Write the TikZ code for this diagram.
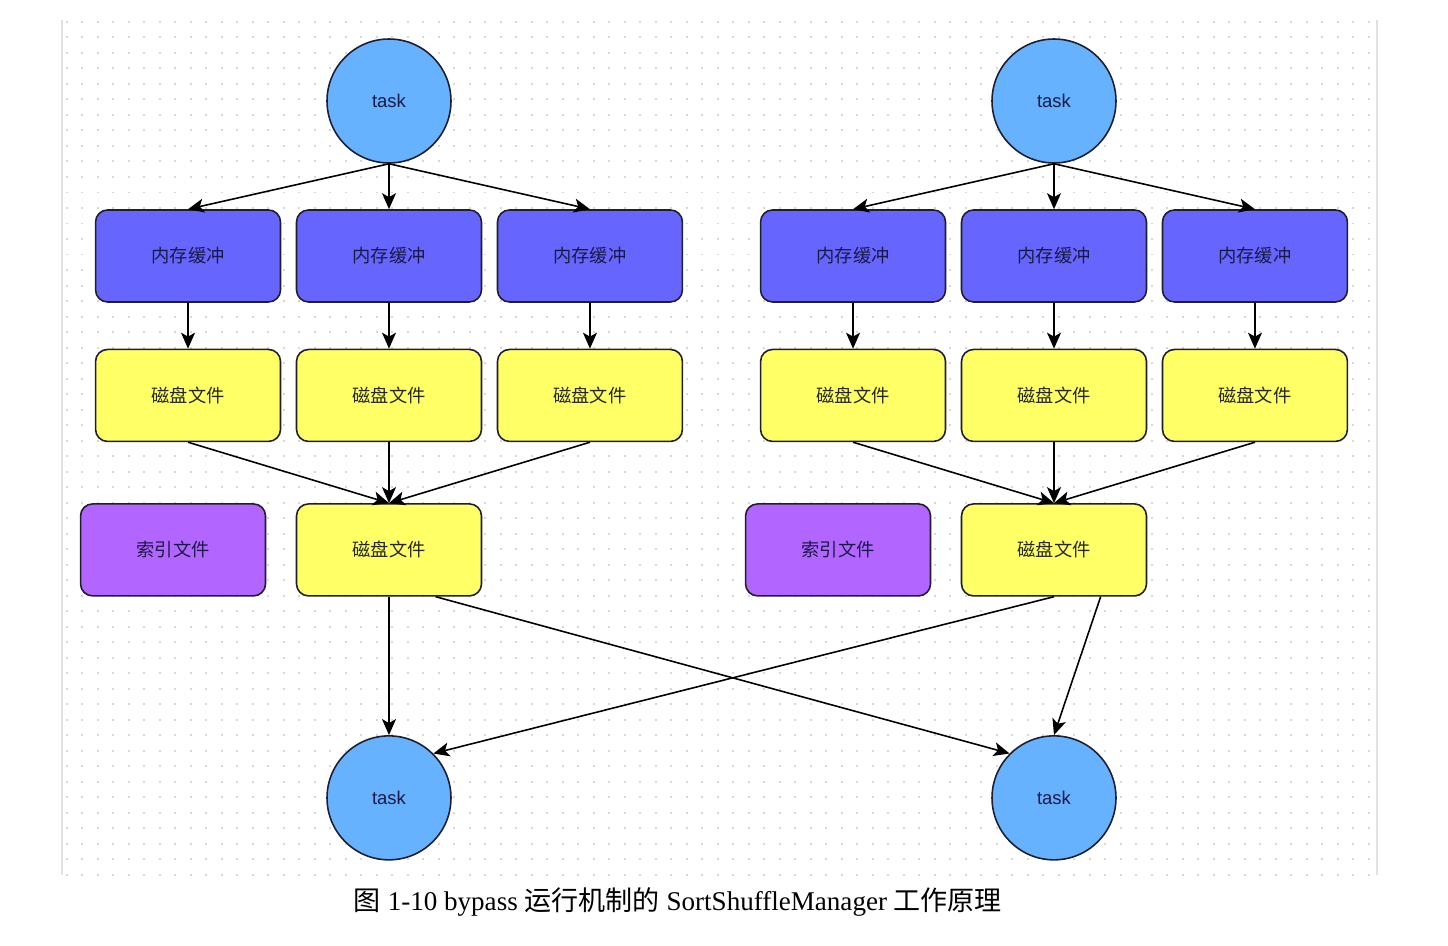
\documentclass[tikz,border=0pt]{standalone}
\usepackage{fontspec}
\setmainfont{Liberation Serif}
\newfontfamily\cjk{Noto Sans CJK SC}
\newfontfamily\labelfont{Liberation Sans}
\usepackage{xcolor}
\usepackage{tikz}
\usetikzlibrary{positioning,arrows.meta,calc}

\definecolor{taskblue}{RGB}{102,178,255}
\definecolor{bufblue}{RGB}{102,102,255}
\definecolor{diskyellow}{RGB}{255,255,102}
\definecolor{indexpurple}{RGB}{178,102,255}
\definecolor{edgedark}{RGB}{30,30,45}
\definecolor{inkdark}{RGB}{25,25,70}
\definecolor{dotgray}{RGB}{215,215,215}
\definecolor{framegray}{RGB}{225,225,225}

\tikzset{
  taskcircle/.style={circle,draw=edgedark,fill=taskblue,line width=0.9pt,
    minimum size=2.48cm,inner sep=0pt,text=inkdark,
    font=\labelfont\fontsize{10.5}{12}\selectfont},
  boxbase/.style={rectangle,rounded corners=0.24cm,draw=edgedark,line width=0.9pt,
    minimum width=3.7cm,minimum height=1.84cm,inner sep=0pt,text=inkdark,
    font=\cjk\fontsize{10.4}{12}\selectfont},
  bufferbox/.style={boxbase,fill=bufblue},
  diskbox/.style={boxbase,fill=diskyellow,text=black!85},
  indexbox/.style={boxbase,fill=indexpurple},
  flow/.style={draw=black,line width=0.9pt,-{Stealth[length=0.32cm,width=0.28cm,inset=0.08cm]}},
}

\begin{document}
\begin{tikzpicture}[x=0.02cm,y=-0.02cm,on grid]
  \useasboundingbox (0,0) rectangle (1448,946);
  % dotted canvas
  \foreach \gy in {22,37.5,...,875}
    \draw[dotgray,line width=0.04cm,dash pattern=on 0.04cm off 0.27cm] (66,\gy) -- (1372,\gy);
  \draw[framegray,line width=0.03cm] (62,20) -- (62,875);
  \draw[framegray,line width=0.03cm] (1377,20) -- (1377,875);

  % left shuffle writer
  \node[taskcircle] (taskA) at (389,101) {task};
  \node[bufferbox,below=3.1cm of taskA] (bufA2) {内存缓冲};
  \node[bufferbox,left=4.02cm of bufA2] (bufA1) {内存缓冲};
  \node[bufferbox,right=4.02cm of bufA2] (bufA3) {内存缓冲};
  \node[diskbox,below=2.79cm of bufA1] (diskA1) {磁盘文件};
  \node[diskbox,below=2.79cm of bufA2] (diskA2) {磁盘文件};
  \node[diskbox,below=2.79cm of bufA3] (diskA3) {磁盘文件};
  \node[diskbox,below=3.09cm of diskA2] (mergeA) {磁盘文件};
  \node[indexbox,left=4.32cm of mergeA] (indexA) {索引文件};

  % right shuffle writer
  \node[taskcircle] (taskB) at (1054,101) {task};
  \node[bufferbox,below=3.1cm of taskB] (bufB2) {内存缓冲};
  \node[bufferbox,left=4.02cm of bufB2] (bufB1) {内存缓冲};
  \node[bufferbox,right=4.02cm of bufB2] (bufB3) {内存缓冲};
  \node[diskbox,below=2.79cm of bufB1] (diskB1) {磁盘文件};
  \node[diskbox,below=2.79cm of bufB2] (diskB2) {磁盘文件};
  \node[diskbox,below=2.79cm of bufB3] (diskB3) {磁盘文件};
  \node[diskbox,below=3.09cm of diskB2] (mergeB) {磁盘文件};
  \node[indexbox,left=4.32cm of mergeB] (indexB) {索引文件};

  % reading tasks
  \node[taskcircle,below=4.96cm of mergeA] (taskC) {task};
  \node[taskcircle,below=4.96cm of mergeB] (taskD) {task};

  \draw[flow] (taskA.south) -- (bufA1.north);
  \draw[flow] (taskA.south) -- (bufA2.north);
  \draw[flow] (taskA.south) -- (bufA3.north);
  \draw[flow] (bufA1) -- (diskA1);
  \draw[flow] (bufA2) -- (diskA2);
  \draw[flow] (bufA3) -- (diskA3);
  \draw[flow] (diskA1.south) -- (mergeA.north);
  \draw[flow] (diskA2.south) -- (mergeA.north);
  \draw[flow] (diskA3.south) -- (mergeA.north);

  \draw[flow] (taskB.south) -- (bufB1.north);
  \draw[flow] (taskB.south) -- (bufB2.north);
  \draw[flow] (taskB.south) -- (bufB3.north);
  \draw[flow] (bufB1) -- (diskB1);
  \draw[flow] (bufB2) -- (diskB2);
  \draw[flow] (bufB3) -- (diskB3);
  \draw[flow] (diskB1.south) -- (mergeB.north);
  \draw[flow] (diskB2.south) -- (mergeB.north);
  \draw[flow] (diskB3.south) -- (mergeB.north);

  \draw[flow] (mergeA.south) -- (taskC.north);
  \draw[flow] ($(mergeA.south)!0.5!(mergeA.south east)$) -- (taskD.north west);
  \draw[flow] (mergeB.south) -- (taskC.north east);
  \draw[flow] ($(mergeB.south)!0.5!(mergeB.south east)$) -- (taskD.north);

  \node[font=\fontsize{15.4}{18}\selectfont] (caption) at (678,902)
    {{\cjk 图} 1-10 bypass {\cjk 运行机制的} SortShuffleManager {\cjk 工作原理}};
\end{tikzpicture}
\end{document}
